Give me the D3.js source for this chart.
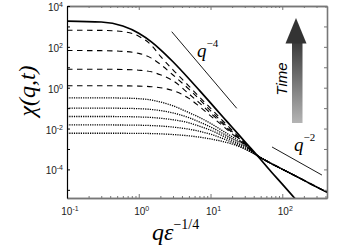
<!DOCTYPE html>
<html>
<head>
<meta charset="utf-8">
<script src="https://cdn.jsdelivr.net/npm/d3@7"></script>
<style>
  body { margin: 0; background: #fff; }
  svg { display: block; }
</style>
</head>
<body>
<svg width="342" height="247"></svg>
<script>
// q values (x) shared by all curves
var qGrid = [0.1, 0.3, 0.6, 1, 1.5, 2, 3, 5, 7, 10, 15, 20, 30, 46, 70, 100, 200, 420];

// latest time, solid
var solidChi = [1830, 1650, 1050, 465, 176, 74, 18.6, 2.75, 0.74, 0.18, 0.036, 0.0116, 2.3e-3, 4.3e-4, 7.7e-5, 1.9e-5, 1.2e-6, 6e-8];

// dashed curves, top to bottom
var dashed1 = [650, 640, 560, 330, 120, 35, 7.5, 1.2, 0.35, 0.1, 0.023, 8.3e-3, 1.95e-3, 4.5e-4, 1.95e-4, 1.03e-4, 2.9e-5, 7.7e-6];
var dashed2 = [66, 65, 60, 48, 28, 14, 4.2, 0.85, 0.27, 0.075, 0.019, 7e-3, 1.8e-3, 4.5e-4, 1.95e-4, 1.03e-4, 2.9e-5, 7.7e-6];
var dashed3 = [8, 8, 7.8, 7.2, 6, 4.3, 2.2, 0.5, 0.18, 0.057, 0.016, 6.3e-3, 1.8e-3, 4.5e-4, 1.95e-4, 1.03e-4, 2.9e-5, 7.7e-6];
var dashed4 = [1.25, 1.25, 1.23, 1.2, 1.12, 1.0, 0.72, 0.3, 0.12, 0.042, 0.013, 5.5e-3, 1.6e-3, 4.5e-4, 1.95e-4, 1.03e-4, 2.9e-5, 7.7e-6];

// dotted curves (early times)
var dotted1 = [0.32, 0.318, 0.31, 0.29, 0.25, 0.2, 0.13, 0.06, 0.035, 0.018, 7.5e-3, 4e-3, 1.6e-3, 4.5e-4, 1.95e-4, 1.03e-4, 2.9e-5, 7.7e-6];
var dotted2 = [0.1, 0.1, 0.098, 0.094, 0.086, 0.076, 0.058, 0.034, 0.021, 0.012, 5.6e-3, 3.2e-3, 1.4e-3, 4.5e-4, 1.95e-4, 1.03e-4, 2.9e-5, 7.7e-6];
var dotted3 = [0.039, 0.039, 0.0385, 0.037, 0.035, 0.032, 0.027, 0.019, 0.013, 8.3e-3, 4.3e-3, 2.6e-3, 1.2e-3, 4.5e-4, 1.95e-4, 1.03e-4, 2.9e-5, 7.7e-6];
var dotted4 = [0.015, 0.015, 0.0149, 0.0146, 0.014, 0.0133, 0.0118, 9.3e-3, 7.3e-3, 5.3e-3, 3.2e-3, 2.1e-3, 1.05e-3, 4.5e-4, 1.95e-4, 1.03e-4, 2.9e-5, 7.7e-6];
var dotted5 = [5.9e-3, 5.9e-3, 5.88e-3, 5.8e-3, 5.7e-3, 5.5e-3, 5.1e-3, 4.4e-3, 3.8e-3, 3.1e-3, 2.3e-3, 1.75e-3, 1.0e-3, 4.5e-4, 1.95e-4, 1.03e-4, 2.9e-5, 7.7e-6];

// reference slopes [q, chi] end points
var q4Ref = [[2.88, 552], [23.2, 0.098]];
var q2Ref = [[72, 1.25e-3], [357, 5.3e-5]];

var xTickExp = [-1, 0, 1, 2];
var yTickExp = [4, 2, 0, -2, -4];

var svg = d3.select("svg");
var pLeft = 67, pRight = 327, pTop = 6, pBottom = 198;

var x = d3.scaleLog().domain([0.1, 420]).range([pLeft, pRight]);
var y = d3.scaleLog().domain([Math.pow(10, -5.4), 1e4]).range([pBottom, pTop]);

svg.append("clipPath").attr("id", "plot")
  .append("rect").attr("x", pLeft).attr("y", pTop).attr("width", pRight - pLeft).attr("height", pBottom - pTop);

var line = d3.line()
  .x(function(d) { return x(d[0]); })
  .y(function(d) { return y(d[1]); })
  .curve(d3.curveMonotoneX);

function pairs(vals) {
  return qGrid.map(function(q, i) { return [q, vals[i]]; });
}

var curves = svg.append("g").attr("clip-path", "url(#plot)");

[dotted1, dotted2, dotted3, dotted4, dotted5].forEach(function(c) {
  curves.append("path").attr("d", line(pairs(c)))
    .attr("fill", "none").attr("stroke", "#000").attr("stroke-width", 1.3)
    .attr("stroke-dasharray", "1.2,1.1");
});
[dashed1, dashed2, dashed3, dashed4].forEach(function(c) {
  curves.append("path").attr("d", line(pairs(c)))
    .attr("fill", "none").attr("stroke", "#000").attr("stroke-width", 1.1)
    .attr("stroke-dasharray", "5.5,4.5");
});
curves.append("path").attr("d", line(pairs(solidChi)))
  .attr("fill", "none").attr("stroke", "#000").attr("stroke-width", 1.7);

// reference slope lines
var straight = d3.line().x(function(d) { return x(d[0]); }).y(function(d) { return y(d[1]); });
svg.append("path").attr("d", straight(q4Ref)).attr("stroke", "#000").attr("stroke-width", 0.9).attr("fill", "none");
svg.append("path").attr("d", straight(q2Ref)).attr("stroke", "#000").attr("stroke-width", 0.9).attr("fill", "none");

// axes
var decadesX = d3.range(-1, 3).map(function(e) { return Math.pow(10, e); });
var minorX = [];
d3.range(-1, 3).forEach(function(e) {
  for (var m = 2; m <= 9; m++) {
    var v = m * Math.pow(10, e);
    if (v < 420) minorX.push(v);
  }
});
var decadesY = d3.range(-5, 5).map(function(e) { return Math.pow(10, e); });

var frameCol = "#777";

function styleAxis(g, col, w) {
  g.select(".domain").attr("stroke", col).attr("stroke-width", w);
  g.selectAll(".tick line").attr("stroke", col).attr("stroke-width", 1);
  g.selectAll(".tick text").remove();
}

var gB = svg.append("g").attr("transform", "translate(0," + pBottom + ")")
  .call(d3.axisBottom(x).tickValues(decadesX).tickSize(-4).tickSizeOuter(0));
styleAxis(gB, frameCol, 1.6);
var gBm = svg.append("g").attr("transform", "translate(0," + pBottom + ")")
  .call(d3.axisBottom(x).tickValues(minorX).tickSize(-2).tickSizeOuter(0));
styleAxis(gBm, frameCol, 1.6);

var gT = svg.append("g").attr("transform", "translate(0," + pTop + ")")
  .call(d3.axisTop(x).tickValues(decadesX).tickSize(-4).tickSizeOuter(0));
styleAxis(gT, frameCol, 1.6);
var gTm = svg.append("g").attr("transform", "translate(0," + pTop + ")")
  .call(d3.axisTop(x).tickValues(minorX).tickSize(-2).tickSizeOuter(0));
styleAxis(gTm, frameCol, 1.6);

var gR = svg.append("g").attr("transform", "translate(" + pRight + ",0)")
  .call(d3.axisRight(y).tickValues(decadesY).tickSize(-3).tickSizeOuter(0));
styleAxis(gR, frameCol, 1.6);

var gL = svg.append("g").attr("transform", "translate(" + pLeft + ",0)")
  .call(d3.axisLeft(y).tickValues(decadesY).tickSize(-3).tickSizeOuter(0));
styleAxis(gL, "#000", 1.2);

// tick labels with superscript exponents
var font = "'Liberation Sans', Arial, sans-serif";
xTickExp.forEach(function(e) {
  var t = svg.append("text").attr("x", x(Math.pow(10, e)) + 3).attr("y", pBottom + 17)
    .attr("text-anchor", "middle").attr("font-family", font).attr("font-size", 10).attr("fill", "#222");
  t.append("tspan").text("10");
  t.append("tspan").attr("dy", -4).attr("font-size", 7).text(e);
});
yTickExp.forEach(function(e) {
  var t = svg.append("text").attr("x", pLeft - 4).attr("y", y(Math.pow(10, e)) + 5)
    .attr("text-anchor", "end").attr("font-family", font).attr("font-size", 10).attr("fill", "#222");
  t.append("tspan").text("10");
  t.append("tspan").attr("dy", -4).attr("font-size", 7).text(e);
});

// axis titles
var serif = "'Liberation Serif', 'Times New Roman', serif";
svg.append("text").attr("transform", "translate(35,91) rotate(-90)")
  .attr("text-anchor", "middle").attr("font-family", serif).attr("font-style", "italic")
  .attr("font-size", 24).text("\u03C7(q,t)");

var xt = svg.append("text").attr("x", 152).attr("y", 240)
  .attr("font-family", serif).attr("font-size", 24);
xt.append("tspan").attr("font-style", "italic").text("q\u03B5");
xt.append("tspan").attr("dy", -11).attr("font-size", 14).text("\u22121/4");

// slope labels
var l4 = svg.append("text").attr("x", 197).attr("y", 57).attr("font-family", serif).attr("font-size", 19);
l4.append("tspan").attr("font-style", "italic").text("q");
l4.append("tspan").attr("dy", -10).attr("font-size", 11).text("\u22124");
var l2 = svg.append("text").attr("x", 294).attr("y", 151).attr("font-family", serif).attr("font-size", 19);
l2.append("tspan").attr("font-style", "italic").text("q");
l2.append("tspan").attr("dy", -10).attr("font-size", 11).text("\u22122");

// time arrow
var grad = svg.append("defs").append("linearGradient").attr("id", "tgrad")
  .attr("x1", 0).attr("y1", 1).attr("x2", 0).attr("y2", 0);
grad.append("stop").attr("offset", "0%").attr("stop-color", "#b4b4b4");
grad.append("stop").attr("offset", "100%").attr("stop-color", "#3a3a3a");
svg.append("rect").attr("x", 292).attr("y", 42).attr("width", 10.5).attr("height", 81).attr("fill", "url(#tgrad)");
svg.append("path").attr("d", "M285.5,43.5 L306.5,43.5 L296,18 Z").attr("fill", "#333");
svg.append("text").attr("transform", "translate(287,79) rotate(-90)")
  .attr("text-anchor", "middle").attr("font-family", font).attr("font-style", "italic")
  .attr("font-size", 15).text("Time");
</script>
</body>
</html>
